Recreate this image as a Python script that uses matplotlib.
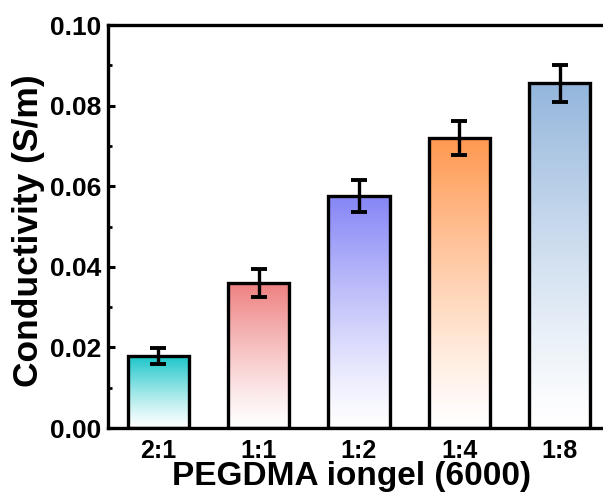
import numpy as np
import matplotlib
matplotlib.use("Agg")
import matplotlib.pyplot as plt
from matplotlib.ticker import MultipleLocator
from matplotlib.colors import LinearSegmentedColormap

plt.rcParams["font.family"] = ["Liberation Sans", "DejaVu Sans"]
plt.rcParams["font.weight"] = "bold"

# data
ratios = ["2:1", "1:1", "1:2", "1:4", "1:8"]
conductivity = [0.0178, 0.0360, 0.0576, 0.0720, 0.0855]
conductivity_err = [0.0020, 0.0035, 0.0040, 0.0043, 0.0045]
top_colors = ["#1cc6c9", "#ee8080", "#8585f6", "#ff9850", "#94b6dc"]

fig = plt.figure(figsize=(6.03, 4.93), dpi=100)
ax = fig.add_axes([108 / 603, (493 - 428) / 493, 502 / 603, 403 / 493])

x = np.arange(len(ratios))
bars = ax.bar(x, conductivity, width=0.61, facecolor="none",
              edgecolor="black", linewidth=2.4, zorder=3)

# gradient fill: colour at the top fading to white at the base
grad = np.linspace(0, 1, 256).reshape(-1, 1)
for bar, c in zip(bars, top_colors):
    cmap = LinearSegmentedColormap.from_list("g", ["#ffffff", c])
    bx, bw, bh = bar.get_x(), bar.get_width(), bar.get_height()
    im = ax.imshow(grad ** 1.2, cmap=cmap, origin="lower", aspect="auto",
                   extent=[bx, bx + bw, 0, bh], zorder=2, vmin=0, vmax=1)
    im.set_clip_path(bar)

ax.errorbar(x, conductivity, yerr=conductivity_err, fmt="none",
            ecolor="black", elinewidth=2.4, capsize=5.5, capthick=2.8, zorder=4)

ax.set_xlim(-0.5, 4.5)
ax.set_ylim(0, 0.10)
ax.set_xticks(x)
ax.set_xticklabels(ratios)
ax.yaxis.set_major_locator(MultipleLocator(0.02))
ax.yaxis.set_minor_locator(MultipleLocator(0.01))
ax.yaxis.set_major_formatter(plt.FuncFormatter(lambda v, p: f"{v:.2f}"))

for s in ax.spines.values():
    s.set_linewidth(2.4)
ax.tick_params(axis="both", which="major", direction="in", length=5, width=2.2)
ax.tick_params(axis="y", which="minor", direction="in", length=3, width=2.0)
ax.tick_params(axis="y", labelsize=19, pad=5)
ax.tick_params(axis="x", labelsize=18, pad=8)

ax.set_ylabel("Conductivity (S/m)", fontsize=25.5, fontweight="bold", va="center")
ax.yaxis.set_label_coords(-0.158, 0.489)
fig.text(351 / 603, 1 - 485 / 493, "PEGDMA iongel (6000)", fontsize=24,
         fontweight="bold", ha="center", va="baseline")

fig.savefig("out.png", dpi=100)
